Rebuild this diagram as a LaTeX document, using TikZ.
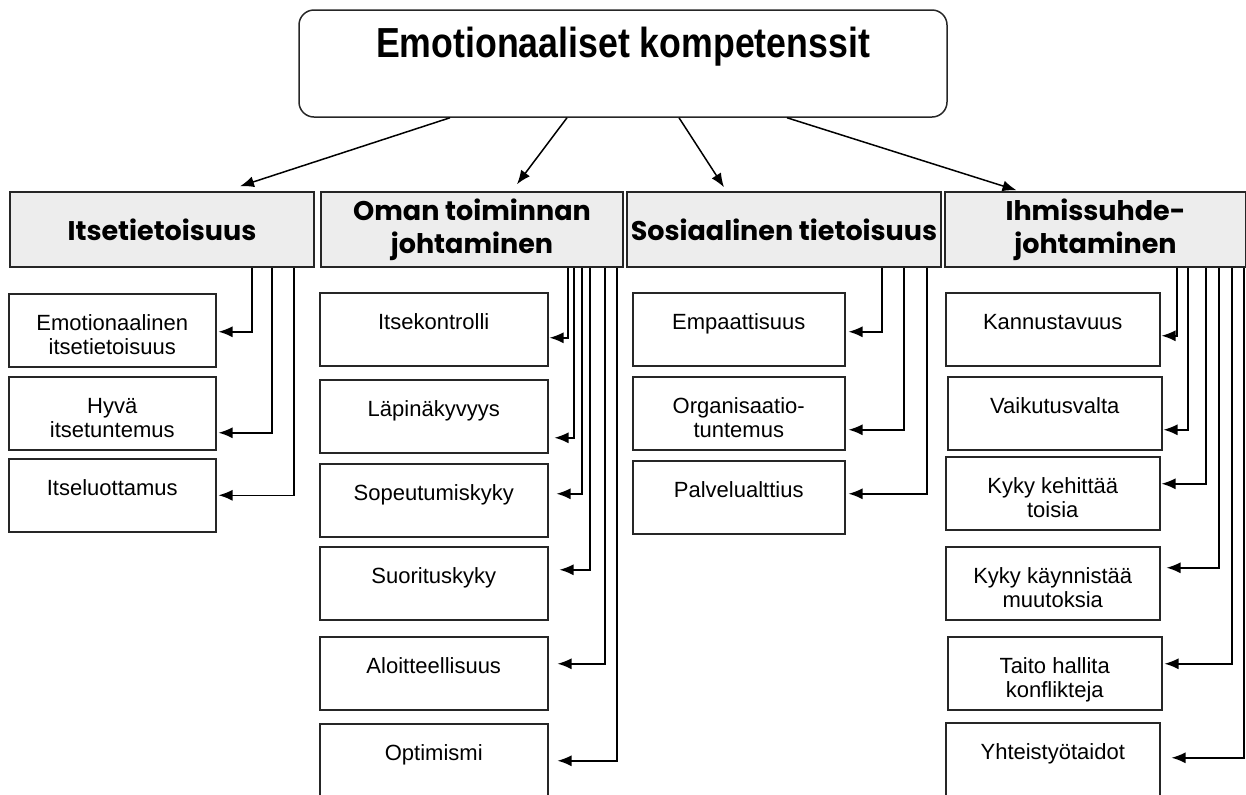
\documentclass[tikz,border=0pt]{standalone}
\usepackage{fontspec}
\setmainfont{Liberation Sans}
\newfontfamily\catfont{Poppins}
\usetikzlibrary{arrows.meta}
\definecolor{catgray}{rgb}{0.93, 0.93, 0.93}
\newcommand{\twoline}[2]{\begin{tabular}[t]{@{}c@{}}#1\\#2\end{tabular}}

\begin{document}
\begin{tikzpicture}[x=0.5pt,y=-0.5pt,
    titlebox/.style={draw=black!85, line width=0.75pt, rounded corners=7.5pt, minimum width=324pt, minimum height=53.5pt, inner sep=0pt, text height=15pt, text depth=21.5pt, font=\bfseries\fontsize{21}{24}\selectfont},
    catbox/.style={draw=black!85, line width=0.75pt, fill=catgray, minimum height=37.5pt, inner sep=2pt, align=center, font=\catfont\bfseries\fontsize{13.5}{16.5}\selectfont},
    childbox/.style={draw=black!85, line width=0.75pt, fill=white, anchor=north west, inner xsep=2pt, inner ysep=0pt, text height=18.5pt, text depth=18pt, font=\fontsize{11}{12}\selectfont},
    link/.style={-{Latex[length=7pt,width=5.5pt]}, line width=0.75pt}]
        \path[use as bounding box, clip] (0,0) rectangle (1246,794);

        % Main box
        \node[titlebox] (top) at (623,63.5) {\scalebox{0.85}[1]{Emotionaaliset kompetenssit}};

        % Competence areas
        \node[catbox, minimum width=152pt] (cat1) at (162,229.5) {Itsetietoisuus};
        \node[catbox, minimum width=151pt] (cat2) at (472,229.5) {Oman toiminnan\\johtaminen};
        \node[catbox, minimum width=152pt] (cat3) at (784,229.5) {Sosiaalinen tietoisuus};
        \node[catbox, minimum width=150.5pt] (cat4) at (1095.5,229.5) {Ihmissuhde-\\johtaminen};

        % Arrows from main box
        \draw[link] ([shift={(-173,0)}]top.south) -- ([shift={(78,-5)}]cat1.north);
        \draw[link] ([shift={(-56,0)}]top.south) -- ([shift={(45,-7)}]cat2.north);
        \draw[link] ([shift={(56,0)}]top.south) -- ([shift={(-60,-4)}]cat3.north);
        \draw[link] ([shift={(164,0)}]top.south) -- ([shift={(-79,-1)}]cat4.north);

        % Itsetietoisuus
        \node[childbox, minimum width=103.5pt] (c11) at (8,293) {\twoline{Emotionaalinen}{itsetietoisuus}};
        \node[childbox, minimum width=103.5pt] (c12) at (8,376) {\twoline{Hyvä}{itsetuntemus}};
        \node[childbox, minimum width=103.5pt] (c13) at (8,458) {Itseluottamus};
        \draw[link] (252,0 |- cat1.south) |- ([shift={(2,1.5)}]c11.east);
        \draw[link] (272,0 |- cat1.south) |- ([shift={(2,19.5)}]c12.east);
        \draw[link] (294,0 |- cat1.south) |- ([shift={(2,0)}]c13.east);

        % Oman toiminnan johtaminen
        \node[childbox, minimum width=114pt] (c21) at (319,292) {Itsekontrolli};
        \node[childbox, minimum width=114pt] (c22) at (319,379) {Läpinäkyvyys};
        \node[childbox, minimum width=114pt] (c23) at (319,463) {Sopeutumiskyky};
        \node[childbox, minimum width=114pt] (c24) at (319,546) {Suorituskyky};
        \node[childbox, minimum width=114pt] (c25) at (319,636) {Aloitteellisuus};
        \node[childbox, minimum width=114pt] (c26) at (319,723) {Optimismi};
        \draw[link] (568,0 |- cat2.south) |- ([shift={(1,8.5)}]c21.east);
        \draw[link] (574,0 |- cat2.south) |- ([shift={(6,21.5)}]c22.east);
        \draw[link] (582,0 |- cat2.south) |- ([shift={(8,-6.5)}]c23.east);
        \draw[link] (590,0 |- cat2.south) |- ([shift={(11,-13.5)}]c24.east);
        \draw[link] (605,0 |- cat2.south) |- ([shift={(9,-9.5)}]c25.east);
        \draw[link] (617,0 |- cat2.south) |- ([shift={(9,0.5)}]c26.east);

        % Sosiaalinen tietoisuus
        \node[childbox, minimum width=106pt] (c31) at (632,292) {Empaattisuus};
        \node[childbox, minimum width=106pt] (c32) at (632,376) {\twoline{Organisaatio-}{tuntemus}};
        \node[childbox, minimum width=106pt] (c33) at (632,460) {Palvelualttius};
        \draw[link] (882,0 |- cat3.south) |- ([shift={(3,2.5)}]c31.east);
        \draw[link] (904,0 |- cat3.south) |- ([shift={(3,16.5)}]c32.east);
        \draw[link] (927,0 |- cat3.south) |- ([shift={(3,-3.5)}]c33.east);

        % Ihmissuhdejohtaminen
        \node[childbox, minimum width=107pt] (c41) at (945,292) {Kannustavuus};
        \node[childbox, minimum width=107pt] (c42) at (947,376) {Vaikutusvalta};
        \node[childbox, minimum width=107pt] (c43) at (945,456) {\twoline{Kyky kehittää}{toisia}};
        \node[childbox, minimum width=107pt] (c44) at (945,546) {\twoline{Kyky käynnistää}{muutoksia}};
        \node[childbox, minimum width=107pt] (c45) at (947,636) {\twoline{Taito hallita}{konflikteja}};
        \node[childbox, minimum width=107pt] (c46) at (945,722) {Yhteistyötaidot};
        \draw[link] (1177,0 |- cat4.south) |- ([shift={(1,6.5)}]c41.east);
        \draw[link] (1188,0 |- cat4.south) |- ([shift={(1,16.5)}]c42.east);
        \draw[link] (1206,0 |- cat4.south) |- ([shift={(1,-9.5)}]c43.east);
        \draw[link] (1219,0 |- cat4.south) |- ([shift={(6,-15.5)}]c44.east);
        \draw[link] (1232,0 |- cat4.south) |- ([shift={(2,-9.5)}]c45.east);
        \draw[link] (1244,0 |- cat4.south) |- ([shift={(11,-1.5)}]c46.east);

    \end{tikzpicture}
\end{document}
